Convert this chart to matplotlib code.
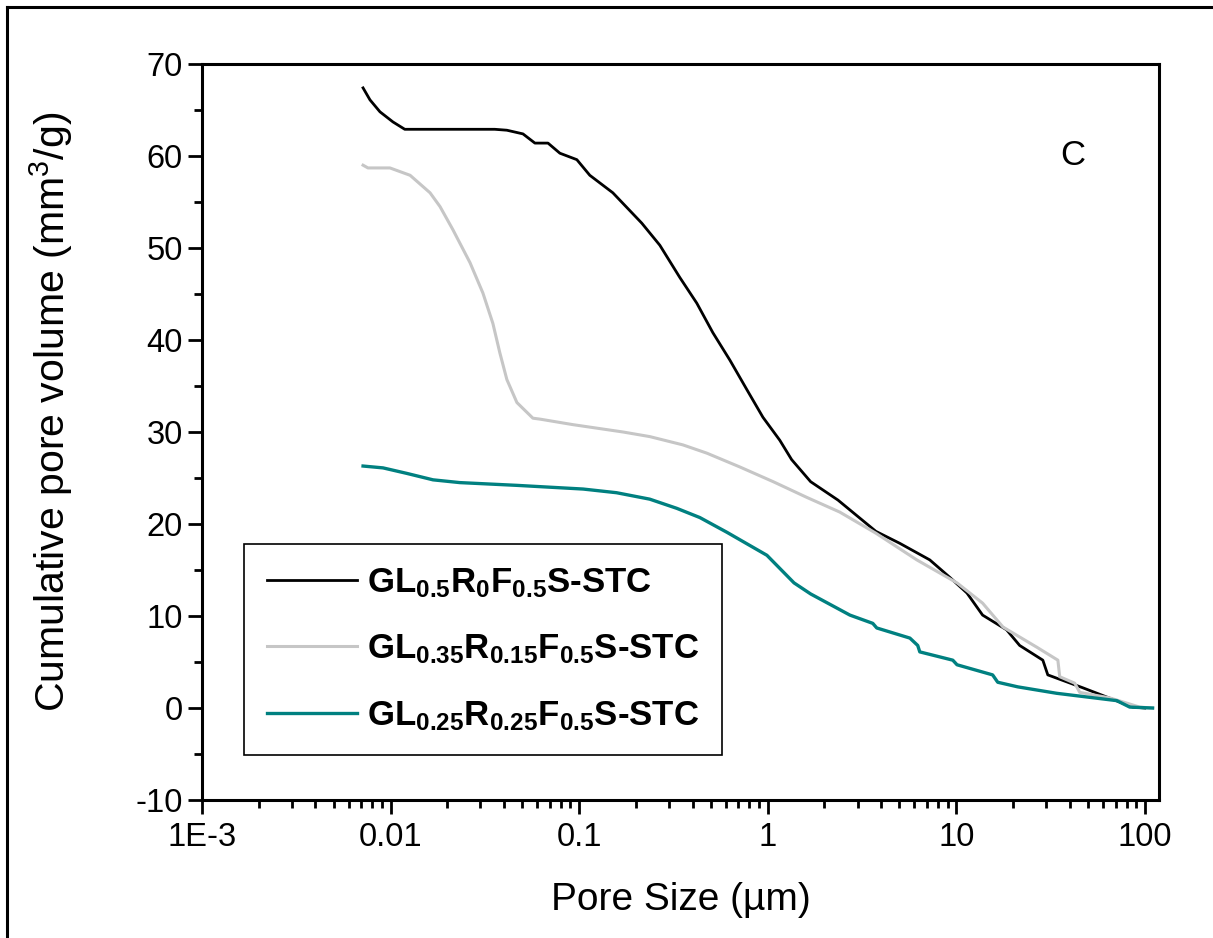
import matplotlib
matplotlib.use("Agg")
import matplotlib.pyplot as plt
from matplotlib.lines import Line2D
from matplotlib.ticker import FixedLocator, LogLocator, MultipleLocator, NullFormatter

plt.rcParams['font.family'] = 'Liberation Sans'
plt.rcParams['mathtext.fontset'] = 'custom'
plt.rcParams['mathtext.rm'] = 'Liberation Sans'
plt.rcParams['mathtext.bf'] = 'Liberation Sans:bold'
plt.rcParams['mathtext.default'] = 'regular'
plt.rcParams['axes.unicode_minus'] = False

# pore size (um) and cumulative pore volume (mm3/g)
size_r0 = [0.00715, 0.00778, 0.00879, 0.0103, 0.0119, 0.0357, 0.0414, 0.0504, 0.0583, 0.0684,
           0.0791, 0.0973, 0.114, 0.151, 0.215, 0.268, 0.342, 0.421, 0.512, 0.631,
           0.776, 0.944, 1.16, 1.34, 1.69, 2.36, 3.75, 5.02, 7.24, 9.25,
           11.4, 13.8, 18.5, 21.7, 28.8, 30.6, 46.9, 62.8, 86.3, 100]
vol_r0 = [67.4, 66.1, 64.8, 63.7, 62.9, 62.9, 62.8, 62.4, 61.4, 61.4,
          60.3, 59.6, 57.9, 56.0, 52.7, 50.3, 46.8, 44.0, 40.8, 37.8,
          34.6, 31.6, 29.1, 27.0, 24.6, 22.6, 19.2, 17.9, 16.1, 14.2,
          12.5, 10.1, 8.5, 6.8, 5.2, 3.6, 2.2, 1.2, 0.1, 0.0]

size_r015 = [0.00715, 0.00759, 0.00993, 0.0127, 0.0162, 0.0183, 0.0214, 0.0264, 0.0309, 0.0349,
             0.0380, 0.0414, 0.0468, 0.0569, 0.0620, 0.0927, 0.171, 0.237, 0.355, 0.476,
             0.712, 1.07, 1.61, 2.41, 3.75, 6.18, 10.1, 13.8, 17.7, 26.8,
             34.6, 35.4, 42.5, 45.2, 65.2, 94, 110]
vol_r015 = [59.0, 58.7, 58.7, 57.9, 56.0, 54.5, 52.0, 48.4, 45.1, 41.8,
            38.6, 35.7, 33.2, 31.5, 31.4, 30.8, 30.0, 29.5, 28.6, 27.7,
            26.2, 24.6, 22.9, 21.3, 19.0, 16.1, 13.6, 11.4, 8.8, 6.6,
            5.2, 3.4, 2.7, 1.7, 1.1, 0.1, 0.0]

size_r025 = [0.00715, 0.00912, 0.0122, 0.0168, 0.0233, 0.0468, 0.070, 0.105, 0.158, 0.237,
             0.330, 0.437, 0.608, 0.991, 1.38, 1.69, 2.73, 3.61, 3.79, 5.68,
             6.25, 6.41, 9.59, 10.1, 15.6, 16.6, 21.2, 34.1, 71.1, 83.2, 110]
vol_r025 = [26.3, 26.1, 25.5, 24.8, 24.5, 24.2, 24.0, 23.8, 23.4, 22.7,
            21.7, 20.7, 19.1, 16.6, 13.6, 12.4, 10.1, 9.2, 8.7, 7.6,
            6.8, 6.1, 5.2, 4.7, 3.6, 2.8, 2.3, 1.6, 0.8, 0.1, 0.0]

labels = [r'GL$_{\mathbf{0.5}}$R$_{\mathbf{0}}$F$_{\mathbf{0.5}}$S-STC',
          r'GL$_{\mathbf{0.35}}$R$_{\mathbf{0.15}}$F$_{\mathbf{0.5}}$S-STC',
          r'GL$_{\mathbf{0.25}}$R$_{\mathbf{0.25}}$F$_{\mathbf{0.5}}$S-STC']
xtick_vals = [1e-3, 0.01, 0.1, 1, 10, 100]
xtick_text = ['1E-3', '0.01', '0.1', '1', '10', '100']

fig = plt.figure(figsize=(12.13, 9.38), dpi=100)
ax = fig.add_axes([0.1665, 0.1471, 0.789, 0.7847])

ax.plot(size_r0, vol_r0, color='black', lw=2.0, label=labels[0])
ax.plot(size_r015, vol_r015, color='#c6c6c6', lw=2.2, label=labels[1])
ax.plot(size_r025, vol_r025, color='#008080', lw=2.4, label=labels[2])

ax.set_xscale('log')
ax.set_xlim(1e-3, 119)
ax.set_ylim(-10, 70)
ax.xaxis.set_major_locator(FixedLocator(xtick_vals))
ax.set_xticklabels(xtick_text)
ax.xaxis.set_minor_locator(LogLocator(base=10, subs=range(2, 10)))
ax.xaxis.set_minor_formatter(NullFormatter())
ax.yaxis.set_major_locator(MultipleLocator(10))
ax.yaxis.set_minor_locator(MultipleLocator(5))

for s in ax.spines.values():
    s.set_linewidth(2.2)
ax.tick_params(which='major', direction='out', length=10, width=2.0, labelsize=23.5)
ax.tick_params(which='minor', direction='out', length=5.5, width=2.0)
ax.tick_params(axis='x', which='major', pad=6)
ax.tick_params(axis='y', which='major', pad=4)

ax.set_xlabel('Pore Size (µm)', fontsize=28, labelpad=21)
ax.set_ylabel('Cumulative pore volume (mm$^3$/g)', fontsize=29.5)
ax.yaxis.set_label_coords(-0.1324, 0.527)

ax.text(0.91, 0.876, 'C', transform=ax.transAxes, fontsize=25, ha='center', va='center')

leg = ax.legend(loc='lower left', bbox_to_anchor=(0.044, 0.061), fancybox=False,
                edgecolor='black', framealpha=1, borderaxespad=0, borderpad=0.65,
                handlelength=2.6, handletextpad=0.3, labelspacing=0.94,
                prop={'size': 25, 'weight': 'bold'})
leg.get_frame().set_linewidth(1.2)

# frame lines of the original image
fig.add_artist(Line2D([0.0058, 0.0058], [0, 0.9925], transform=fig.transFigure, color='black', lw=2.2))
fig.add_artist(Line2D([0.0058, 1.0], [0.9925, 0.9925], transform=fig.transFigure, color='black', lw=2.2))

fig.savefig('out.png', dpi=100)
